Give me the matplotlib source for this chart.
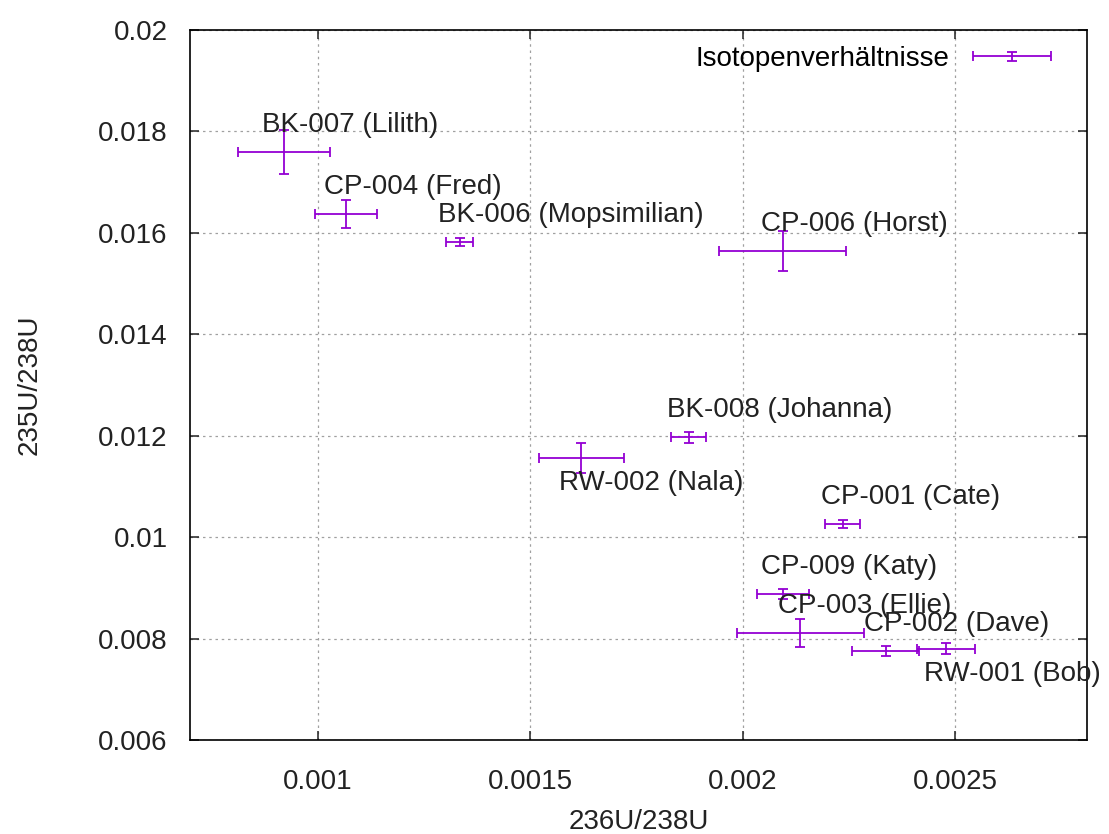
import numpy as np
import matplotlib.pyplot as plt
from matplotlib.ticker import MultipleLocator, FormatStrFormatter
from matplotlib.legend_handler import HandlerErrorbar
from matplotlib.container import ErrorbarContainer

plt.rcParams['font.family'] = ['Liberation Sans', 'DejaVu Sans']

# sample names and measured ratios with their uncertainties
names = ["BK-007 (Lilith)", "CP-004 (Fred)", "BK-006 (Mopsimilian)", "CP-006 (Horst)",
         "BK-008 (Johanna)", "RW-002 (Nala)", "CP-001 (Cate)", "CP-009 (Katy)",
         "CP-003 (Ellie)", "CP-002 (Dave)", "RW-001 (Bob)"]
u236 = [0.000922, 0.001068, 0.001334, 0.002094, 0.001873, 0.001620, 0.002235,
        0.002094, 0.002136, 0.002336, 0.002478]
u236_err = [0.000108, 0.000073, 0.000032, 0.000150, 0.000041, 0.000100, 0.000041,
            0.000061, 0.000150, 0.000078, 0.000068]
u235 = [0.01759, 0.01637, 0.01582, 0.01564, 0.01197, 0.01156, 0.01026,
        0.00888, 0.00811, 0.00776, 0.00780]
u235_err = [0.00043, 0.00028, 0.00008, 0.00039, 0.00011, 0.00030, 0.00008,
            0.00010, 0.00027, 0.00010, 0.00011]
labels_below = {"RW-002 (Nala)", "RW-001 (Bob)"}

violet = "#9400d3"
fs = 20

fig = plt.figure(figsize=(11.09, 8.34), dpi=100)
ax = fig.add_axes([0.1713, 0.1127, 0.8089, 0.8513])

eb = ax.errorbar(u236, u235, xerr=u236_err, yerr=u235_err, fmt='none', ecolor=violet,
                 elinewidth=1.3, capsize=3.3, capthick=1.3, label="Isotopenverhältnisse")

for name, x, y in zip(names, u236, u235):
    dy = -25 if name in labels_below else 27
    ax.annotate(name, (x, y), xytext=(-22, dy), textcoords='offset pixels',
                ha='left', va='center', fontsize=fs, color='#222222')

ax.set_xlim(0.0007, 0.00281)
ax.set_ylim(0.006, 0.02)
ax.xaxis.set_major_locator(MultipleLocator(0.0005))
ax.yaxis.set_major_locator(MultipleLocator(0.002))
ax.xaxis.set_major_formatter(FormatStrFormatter('%g'))
ax.yaxis.set_major_formatter(FormatStrFormatter('%g'))

ax.set_axisbelow(True)
ax.grid(True, color='#a0a0a0', linestyle=(0, (2, 3)), linewidth=0.9)
ax.tick_params(direction='in', top=True, right=True, length=6.5, width=1.1,
               labelsize=fs, colors='#222222')
ax.tick_params(axis='y', pad=16)
ax.tick_params(axis='x', pad=21)
for s in ax.spines.values():
    s.set_linewidth(1.2)

ax.set_xlabel("236U/238U", fontsize=fs, color='#222222', labelpad=10)
ax.set_ylabel("235U/238U", fontsize=fs, color='#222222', labelpad=40)

ax.legend(handles=[eb], loc='upper right', bbox_to_anchor=(0.972, 0.993),
          frameon=False, markerfirst=False, fontsize=fs, handlelength=2.8,
          handletextpad=0.85, borderaxespad=0,
          handler_map={ErrorbarContainer: HandlerErrorbar(xerr_size=1.4, yerr_size=0.15)})

fig.savefig("out.png", dpi=100)
